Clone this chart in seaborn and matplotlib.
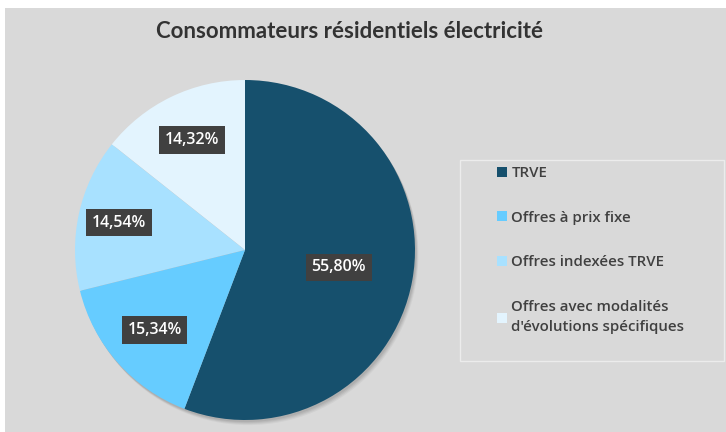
import matplotlib
matplotlib.use("Agg")
import matplotlib.pyplot as plt
import seaborn as sns
import numpy as np
from matplotlib.patches import Rectangle, Circle

# DATA
categories = ['TRVE', 'Offres à prix fixe', 'Offres indexées TRVE',
              "Offres avec modalités\nd'évolutions spécifiques"]
shares = [55.80, 15.34, 14.54, 14.32]
pct_labels = ['55,80%', '15,34%', '14,54%', '14,32%']

sns.set_style("white")
plt.rcParams['font.family'] = ['Open Sans', 'DejaVu Sans']

colors = sns.color_palette(['#16506d', '#66ccff', '#a8e1ff', '#e3f4fe'])
bg = '#d9d9d9'

fig = plt.figure(figsize=(7.26, 4.32), dpi=100, facecolor='white')
# grey chart area, white strip on top and left like the screenshot
fig.patches.append(Rectangle((5 / 726, 0), 1, (432 - 8) / 432,
                             transform=fig.transFigure, facecolor=bg,
                             edgecolor='none', zorder=-10))
# legend box
fig.patches.append(Rectangle((460 / 726, 1 - 361 / 432), 264 / 726, 201 / 432,
                             transform=fig.transFigure, facecolor='none',
                             edgecolor='#ececec', linewidth=1.0, zorder=-5))

ax = fig.add_axes([75 / 726, 12 / 432, 340 / 726, 340 / 432])
ax.set_facecolor('none')

# soft shadow under the pie
for k, a in zip([5, 4, 3, 2], [0.08, 0.10, 0.12, 0.15]):
    ax.add_patch(Circle((0.004 * k, -0.006 * k), 1.0, color='#6b6b6b',
                        alpha=a, zorder=0, clip_on=False, linewidth=0))

wedges, _ = ax.pie(shares, colors=colors, startangle=90, counterclock=False,
                   radius=1.0, wedgeprops=dict(linewidth=0, zorder=2))

# percentage labels in dark boxes
label_r = [0.56, 0.71, 0.76, 0.72]
for w, txt, r in zip(wedges, pct_labels, label_r):
    theta = np.deg2rad((w.theta1 + w.theta2) / 2)
    ax.text(r * np.cos(theta), r * np.sin(theta), txt, ha='center',
            va='center', color='white', fontsize=11.5, fontweight='semibold',
            zorder=5,
            bbox=dict(boxstyle='square,pad=0.36', facecolor='#404040',
                      edgecolor='none'))

ax.set_xlim(-1, 1)
ax.set_ylim(-1, 1)
ax.set_aspect('equal')
ax.axis('off')

fig.text(350 / 726, 1 - 31 / 432, 'Consommateurs résidentiels électricité',
         ha='center', va='center', fontsize=16, fontweight='bold',
         color='#333333', family=['Lato', 'DejaVu Sans'])

leg = fig.legend(wedges, categories, loc='upper left',
                 bbox_to_anchor=(497 / 726, 1 - 166 / 432),
                 frameon=False, handlelength=0.65, handleheight=0.65,
                 handletextpad=0.3, labelspacing=2.05, borderpad=0,
                 borderaxespad=0, prop=dict(size=10.8, weight='semibold'))
for t in leg.get_texts():
    t.set_color('#404040')
    t.set_linespacing(1.55)

fig.savefig('out.png', dpi=100, facecolor=fig.get_facecolor())
